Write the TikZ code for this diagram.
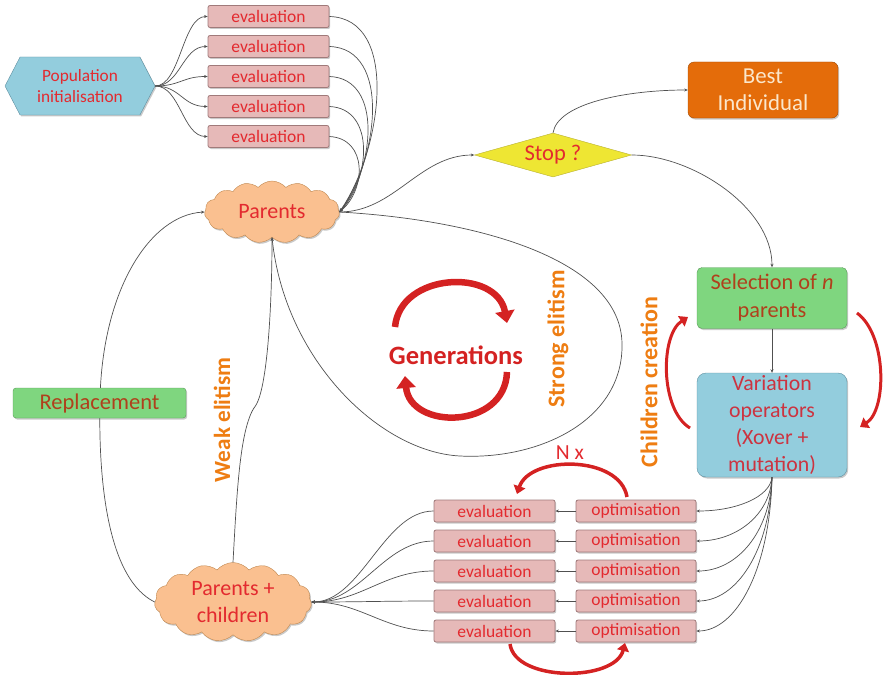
\documentclass[tikz,border=0pt]{standalone}
\usepackage{fontspec}
\setmainfont{Carlito}
\usetikzlibrary{shapes.geometric,shapes.symbols,shadows,arrows.meta}

\definecolor{txtred}{HTML}{E32A2F}
\definecolor{greentxt}{HTML}{B0401C}
\definecolor{bluetxt}{HTML}{CC3340}
\definecolor{pinkfill}{HTML}{E6B9B8}
\definecolor{pinkedge}{HTML}{A07A7A}
\definecolor{popblue}{HTML}{93CDDD}
\definecolor{blueedge}{HTML}{5F8FA0}
\definecolor{greenfill}{HTML}{7FD67F}
\definecolor{greenedge}{HTML}{5A9A5A}
\definecolor{bestfill}{HTML}{E46C0A}
\definecolor{besttxt}{HTML}{FBE7CC}
\definecolor{stopfill}{HTML}{EEE633}
\definecolor{stopedge}{HTML}{B8B030}
\definecolor{cloudfill}{HTML}{FAC090}
\definecolor{cloudedge}{HTML}{C08850}
\definecolor{labelorange}{HTML}{EE7D12}
\definecolor{arrowred}{HTML}{D42222}
\definecolor{linegray}{HTML}{505050}

\begin{document}
\begin{tikzpicture}[x=1pt,y=-1pt,
  boxshadow/.style={drop shadow={shadow xshift=1.2pt,shadow yshift=-1.5pt,opacity=0.35,fill=black!60}},
  evalbox/.style={rectangle, rounded corners=2pt, draw=pinkedge, fill=pinkfill, line width=0.8pt,
    minimum height=22pt, inner sep=0pt, text=txtred, font=\fontsize{17.5}{20}\selectfont, boxshadow},
  puffy/.style={cloud, cloud ignores aspect, cloud puffs=15, cloud puff arc=100, draw=cloudedge,
    fill=cloudfill, inner sep=0pt, align=center, text=txtred, boxshadow},
  link/.style={draw=linegray, line width=0.7pt, -{Stealth[length=3.5pt,width=3pt]}},
  bigarrow/.style={draw=arrowred, line width=6.5pt, -{Triangle[length=12pt,width=19pt]}},
  smallarrow/.style={draw=arrowred, line width=3.5pt, -{Triangle[length=8pt,width=12pt]}},
  vlabel/.style={text=labelorange, font=\bfseries\fontsize{24}{28}\selectfont, rotate=90},
]
\useasboundingbox (0,0) rectangle (885,674);

% ---------- nodes ----------
\node[signal, signal to=west and east, signal pointer angle=125, draw=blueedge, fill=popblue,
  minimum width=150pt, minimum height=58pt, inner sep=0pt, align=center, text=txtred,
  font=\fontsize{17.3}{20.5}\selectfont, boxshadow] (pop) at (80,86) {Population\\initialisation};

\foreach \i/\y in {1/16.5,2/46.5,3/76.5,4/106.5,5/136.5}
  \node[evalbox, minimum width=121pt] (te\i) at (268.5,\y) {evaluation};

\node[puffy, minimum width=135pt, minimum height=62pt,
  font=\fontsize{22}{26}\selectfont] (par) at (272,212) {Parents};

\node[diamond, aspect=3.5, draw=stopedge, fill=stopfill, minimum width=157pt, minimum height=44pt,
  inner sep=0pt, text=txtred, font=\fontsize{22.5}{26}\selectfont] (stop) at (553,155) {Stop ?};

\node[rectangle, rounded corners=6pt, draw=bestfill!70!black, fill=bestfill, minimum width=150pt,
  minimum height=56pt, inner sep=0pt, align=center, text=besttxt,
  font=\fontsize{22.8}{27}\selectfont, boxshadow] (best) at (763,90) {Best\\Individual};

\node[rectangle, rounded corners=5pt, draw=greenedge, fill=greenfill, minimum width=150pt,
  minimum height=61pt, inner sep=0pt, align=center, text=greentxt,
  font=\fontsize{22.3}{28}\selectfont, boxshadow] (sel) at (772,298) {Selection of \textit{n}\\parents};

\node[rectangle, rounded corners=9pt, draw=blueedge, fill=popblue, minimum width=150pt,
  minimum height=104pt, inner sep=0pt, align=center, text=bluetxt,
  font=\fontsize{21.8}{27}\selectfont, boxshadow] (var) at (772,425)
  {Variation\\operators\\(Xover +\\mutation)};

\node[puffy, minimum width=157pt, minimum height=79pt,
  font=\fontsize{22}{27}\selectfont] (pc) at (233,602) {Parents +\\children};

\foreach \i/\y in {1/511,2/541,3/571,4/601,5/631}{
  \node[evalbox, minimum width=121pt] (be\i) at (494.5,\y) {evaluation};
  \node[evalbox, minimum width=120pt] (op\i) at (636,\y) {optimisation};
}

% ---------- connectors ----------
\foreach \i in {1,...,5}
  \draw[link] (pop.east) .. controls +(25,0) and +(-25,0) .. (te\i.west);

\foreach \i/\y in {1/16.5,2/46.5,3/76.5,4/106.5,5/136.5}
  \draw[link] (te\i.east) .. controls ({400-8*(\i-1)},{\y+2}) and ({382-4*(\i-1)},{150+10*(\i-1)}) .. (par.east);

\draw[link] (par.east) .. controls +(55,0) and +(-55,0) .. (stop.west);
\draw[link] (stop.north) .. controls +(5,-30) and +(-60,0) .. (best.west);
\draw[link] (stop.east) .. controls +(60,0) and +(0,-60) .. (sel.north);
\draw[link] (sel.south) -- (var.north);

% strong elitism loop
\draw[link] (par.east) .. controls (480,220) and (620,260) .. (622,343)
  .. controls (624,420) and (540,460) .. (460,456)
  .. controls (380,452) and (285,360) .. (par.south);

% weak elitism
\draw[link] (pc.north) .. controls (237,490) and (240,425) .. (256,405)
  .. controls (268,385) and (272,300) .. (par.south);

% replacement loop
\draw[link] (pc.west) .. controls (110,580) and (98,490) .. (100,400)
  .. controls (102,290) and (150,215) .. (par.west);
\node[rectangle, rounded corners=3pt, draw=greenedge, fill=greenfill, minimum width=173pt,
  minimum height=30pt, inner sep=0pt, text=greentxt, font=\fontsize{22.5}{26}\selectfont,
  boxshadow] (rep) at (99.5,403) {Replacement};

\foreach \i in {1,...,5}{
  \draw[link] (op\i.west) -- (be\i.east);
  \draw[link] (var.south) .. controls +(-2,{0.6*(\i*30-30+511-478)}) and +(40,0) .. (op\i.east);
  \draw[link] (be\i.west) .. controls +(-50,0) and +(50,0) .. (pc.east);
}

% ---------- red cycle arrows ----------
\draw[bigarrow] (395,327) .. controls (400,272) and (497,268) .. (507,323);
\draw[bigarrow] (507,372) .. controls (505,430) and (410,430) .. (405,376);

\draw[smallarrow, line width=3pt] (690,428) .. controls (660,410) and (660,335) .. (688,317);
\draw[smallarrow, line width=3pt] (857,313) .. controls (887,335) and (887,410) .. (860,427);

\draw[smallarrow] (627,497) .. controls (620,455) and (530,455) .. (517,494);
\draw[smallarrow] (510,644) .. controls (515,682) and (615,682) .. (625,643);

% ---------- labels ----------
\node[text=arrowred, font=\bfseries\fontsize{26.5}{30}\selectfont] (gen) at (456,355) {Generations};
\node[vlabel] (strong) at (558,339) {Strong elitism};
\node[vlabel] (children) at (649,382) {Children creation};
\node[vlabel, font=\bfseries\fontsize{23.2}{27}\selectfont] (weak) at (222,420) {Weak elitism};
\node[text=txtred, font=\fontsize{21.5}{25}\selectfont] (nx) at (570,453) {N x};
\end{tikzpicture}
\end{document}
